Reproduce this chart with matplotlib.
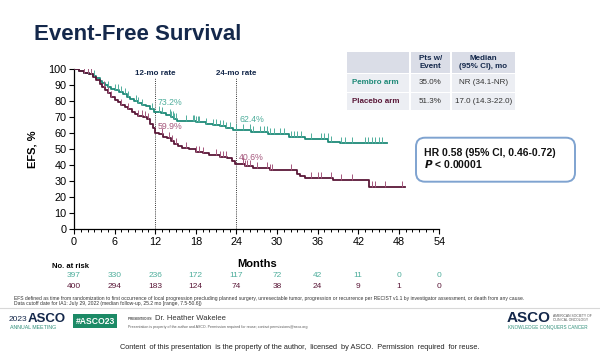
import numpy as np
import matplotlib
matplotlib.use("Agg")
import matplotlib.pyplot as plt
from matplotlib.patches import Rectangle, FancyBboxPatch

plt.rcParams['font.family'] = ['Liberation Sans', 'DejaVu Sans']

TEAL = '#1f8a78'
TEAL_LT = '#4fae9c'
MAROON = '#5a1838'
MAROON_LT = '#a5577c'
NAVY = '#14284b'

# Kaplan-Meier steps (months, EFS %)
pembro_t = [0, 0.8, 1.5, 2.2, 2.8, 3.3, 3.8, 4.2, 4.6, 5.0, 5.5, 6.0, 6.6, 7.2, 7.8,
            8.3, 8.8, 9.4, 10.0, 10.6, 11.2, 11.8, 12.8, 13.6, 14.3, 14.8, 15.2,
            16.5, 18.0, 19.5, 20.5, 21.5, 22.5, 23.5, 26.2, 28.7, 31.7, 34.1,
            37.6, 39.3, 46.2]
pembro_s = [100, 99, 98, 97, 96, 94.5, 93, 91.5, 90, 89, 88, 87, 86, 84.5, 83,
            81.5, 80, 79, 78, 77, 75.5, 73.2, 72.5, 71.5, 70, 69, 68,
            67.5, 67, 66, 65.5, 64.5, 63.5, 62.2, 60.6, 59.4, 57.9, 56.4,
            54.8, 53.7, 53.7]
placebo_t = [0, 0.8, 1.5, 2.2, 2.8, 3.3, 3.8, 4.2, 4.6, 5.0, 5.5, 6.0, 6.5, 7.0,
             7.5, 8.0, 8.5, 9.0, 9.5, 10.2, 10.8, 11.3, 11.6, 11.9, 12.6, 13.2,
             13.8, 14.3, 14.8, 15.3, 16.0, 17.0, 18.0, 19.0, 20.0, 21.5, 22.6,
             23.3, 23.8, 25.3, 26.5, 29.0, 32.9, 33.4, 34.1, 38.3, 43.6, 48.9]
placebo_s = [100, 99, 98, 97, 95.5, 93.5, 91, 89, 87, 85.5, 83, 81, 79.5, 78,
             76.5, 75, 73.5, 72, 71, 70, 69, 66, 63.5, 60.2, 59.5, 58,
             57, 55.5, 53.5, 52, 51, 50, 48.5, 47.5, 46.5, 45.5, 44.5,
             42.5, 40.6, 39.6, 38.5, 36.9, 34.6, 33.3, 32.1, 30.6, 26.6, 26.6]

pembro_cens = [1.5, 2.0, 2.5, 3.0, 5.0, 6.0, 6.5, 7.0, 7.5, 8.0, 9.2, 9.5, 10.0,
               11.5, 12.5, 13.0, 14.2, 14.4, 14.6, 14.8, 15.0, 16.5, 17.6, 17.8,
               18.0, 18.3, 18.5, 19.5, 20.5, 21.0, 21.5, 22.0, 22.5, 23.0, 24.0,
               25.0, 26.0, 26.5, 27.5, 28.0, 28.5, 29.0, 29.5, 30.5, 31.0, 32.0,
               32.5, 33.0, 33.5, 35.0, 36.5, 37.0, 37.5, 38.0, 39.5, 40.0, 41.0,
               43.0, 43.5, 44.0, 44.5, 45.0, 45.5]
placebo_cens = [1.5, 2.0, 2.5, 4.5, 5.0, 5.5, 7.0, 8.0, 9.5, 10.0, 10.5, 11.0,
                13.0, 14.0, 14.5, 15.0, 16.5, 18.0, 18.5, 19.0, 21.0, 21.5, 22.0,
                22.5, 25.0, 25.3, 25.6, 26.0, 27.0, 28.5, 29.0, 29.3, 32.0, 35.0,
                36.0, 36.5, 38.0, 39.5, 41.0, 44.0, 44.5, 46.0, 48.5]

risk_months = [0, 6, 12, 18, 24, 30, 36, 42, 48, 54]
pembro_risk = [397, 330, 236, 172, 117, 72, 42, 11, 0, 0]
placebo_risk = [400, 294, 183, 124, 74, 38, 24, 9, 1, 0]

rate_months = [12, 24]
pembro_rates = [73.2, 62.4]
placebo_rates = [59.9, 40.6]


def surv_at(times, surv, x):
    idx = np.searchsorted(times, x, side='right') - 1
    return np.asarray(surv)[idx]


fig = plt.figure(figsize=(6, 3.59), dpi=100)
W, H = 600, 359

# overlay in pixel coordinates for the slide decorations
ov = fig.add_axes([0, 0, 1, 1])
ov.set_xlim(0, W)
ov.set_ylim(H, 0)
ov.axis('off')

ax = fig.add_axes([74 / W, 1 - 229.3 / H, 365.5 / W, 160 / H])
ax.step(pembro_t, pembro_s, where='post', color=TEAL, lw=1.3, zorder=3)
ax.step(placebo_t, placebo_s, where='post', color=MAROON, lw=1.3, zorder=3)
ax.plot(pembro_cens, surv_at(pembro_t, pembro_s, pembro_cens), ls='none',
        marker=2, color=TEAL_LT, ms=4, mew=0.7, zorder=4)
ax.plot(placebo_cens, surv_at(placebo_t, placebo_s, placebo_cens), ls='none',
        marker=2, color=MAROON_LT, ms=4, mew=0.7, zorder=4)

for m, label in zip(rate_months, ['12-mo rate', '24-mo rate']):
    ax.plot([m, m], [0, 94.5], ls=(0, (1, 1.2)), color='#333333', lw=0.7)
    ax.text(m, 97.5, label, ha='center', va='center', fontsize=5.8,
            fontweight='bold', color=NAVY)
for m, p, q in zip(rate_months, pembro_rates, placebo_rates):
    ax.text(m + 0.4, p + 6, f'{p}%', color=TEAL_LT, fontsize=6.3, va='center')
    ax.text(m + 0.4, q + 4.2, f'{q}%', color=MAROON_LT, fontsize=6.3, va='center')

ax.set_xlim(0, 54)
ax.set_ylim(0, 100)
ax.set_xticks(range(0, 55, 6))
ax.set_xticks(range(0, 55), minor=True)
ax.set_yticks(range(0, 101, 10))
ax.tick_params(axis='both', which='major', labelsize=7.8, length=3.5, width=0.8, pad=2)
ax.tick_params(axis='x', which='minor', length=2, width=0.7)
ax.spines['top'].set_visible(False)
ax.spines['right'].set_visible(False)
for s in ['left', 'bottom']:
    ax.spines[s].set_linewidth(0.9)
ax.set_ylabel('EFS, %', fontsize=8, fontweight='bold')
ax.yaxis.set_label_coords(-0.1, 0.5)
ax.set_xlabel('Months', fontsize=8, fontweight='bold')
ax.xaxis.set_label_coords(0.5, -0.1875)
ax.patch.set_alpha(0)

# number at risk
tr = ax.get_xaxis_transform()
ov.text(71, 266, 'No. at risk', fontsize=5.5, fontweight='bold', ha='center', va='center')
for m, a, b in zip(risk_months, pembro_risk, placebo_risk):
    ax.text(m, -0.29, str(a), transform=tr, fontsize=6, color=TEAL_LT,
            ha='center', va='center', clip_on=False)
    ax.text(m, -0.355, str(b), transform=tr, fontsize=6, color=MAROON,
            ha='center', va='center', clip_on=False)

# title
ov.text(34, 34, 'Event-Free Survival', fontsize=16, fontweight='bold',
        color=NAVY, va='center')

# median table
cols = [(346.7, 409.3), (410.7, 450), (451.7, 515)]
rows = [(51.7, 73.3), (74.3, 91.7), (92.7, 110)]
cells = [['', 'Pts w/\nEvent', 'Median\n(95% CI), mo'],
         ['Pembro arm', '35.0%', 'NR (34.1-NR)'],
         ['Placebo arm', '51.3%', '17.0 (14.3-22.0)']]
row_col = [NAVY, TEAL, MAROON]
for i, (y0, y1) in enumerate(rows):
    fill = '#dadde7' if i == 0 else '#eceef3'
    for j, (x0, x1) in enumerate(cols):
        ov.add_patch(Rectangle((x0, y0), x1 - x0, y1 - y0, fc=fill, ec='none'))
        txt = cells[i][j]
        if not txt:
            continue
        if j == 0:
            ov.text(x0 + 5, (y0 + y1) / 2, txt, fontsize=5.8, fontweight='bold',
                    color=row_col[i], va='center')
        else:
            ov.text((x0 + x1) / 2, (y0 + y1) / 2, txt, fontsize=5.8,
                    fontweight='bold' if i == 0 else 'normal',
                    color=NAVY if i == 0 else '#333333',
                    ha='center', va='center', linespacing=1.0)

# HR box
ov.add_patch(FancyBboxPatch((416, 137.7), 159, 44, boxstyle='round,pad=0,rounding_size=9',
                            fc='white', ec='#7fa3d0', lw=1.4))
ov.text(424, 153.5, 'HR 0.58 (95% CI, 0.46-0.72)', fontsize=7.5,
        fontweight='bold', color='#111111', va='center')
ov.text(424, 164.5, r'$\mathbfit{P}$' + ' < 0.00001', fontsize=7.5,
        fontweight='bold', color='#111111', va='center')

# footnotes
ov.text(14, 298.3, 'EFS defined as time from randomization to first occurrence of local '
        'progression precluding planned surgery, unresectable tumor, progression or '
        'recurrence per RECIST v1.1 by investigator assessment, or death from any cause.',
        fontsize=3.65, color='#333333', va='center')
ov.text(14, 304, 'Data cutoff date for IA1: July 29, 2022 (median follow-up, 25.2 mo '
        '[range, 7.5-50.6])', fontsize=3.65, color='#333333', va='center')
ov.plot([0, W], [307.7, 307.7], color='#d8d8d8', lw=0.8)

# footer
ov.text(9, 319.5, '2023', fontsize=6, color=NAVY, va='center')
ov.text(28, 319.5, 'ASCO', fontsize=9.5, fontweight='bold', color=NAVY, va='center')
ov.text(10, 327.3, 'ANNUAL MEETING', fontsize=3.8, color='#2f8f7a', va='center')
ov.add_patch(Rectangle((73.3, 314.3), 43.4, 14, fc='#1c8a66', ec='none'))
ov.text(95, 321.3, '#ASCO23', fontsize=6.2, fontweight='bold', color='white',
        ha='center', va='center')
ov.text(128, 318.7, 'PRESENTED BY:', fontsize=2.2, fontweight='bold', color='#444444',
        va='center')
ov.text(155, 318.7, 'Dr. Heather Wakelee', fontsize=5.5, color='#333333', va='center')
ov.text(128, 327.3, 'Presentation is property of the author and ASCO. Permission '
        'required for reuse; contact permissions@asco.org', fontsize=2.6,
        color='#555555', va='center')
ov.text(507, 318, 'ASCO', fontsize=11, fontweight='bold', color=NAVY, va='center')
ov.text(553, 318, 'AMERICAN SOCIETY OF\nCLINICAL ONCOLOGY', fontsize=2.4,
        color='#555555', va='center', linespacing=1.1)
ov.text(508, 328, 'KNOWLEDGE CONQUERS CANCER', fontsize=3.3, color='#2f8f7a',
        va='center')

ov.text(300, 347.5, 'Content  of this presentation  is the property of the author,  '
        'licensed  by ASCO.  Permission  required  for reuse.', fontsize=5.3,
        color='#222222', ha='center', va='center')

fig.savefig('out.png', dpi=100)
